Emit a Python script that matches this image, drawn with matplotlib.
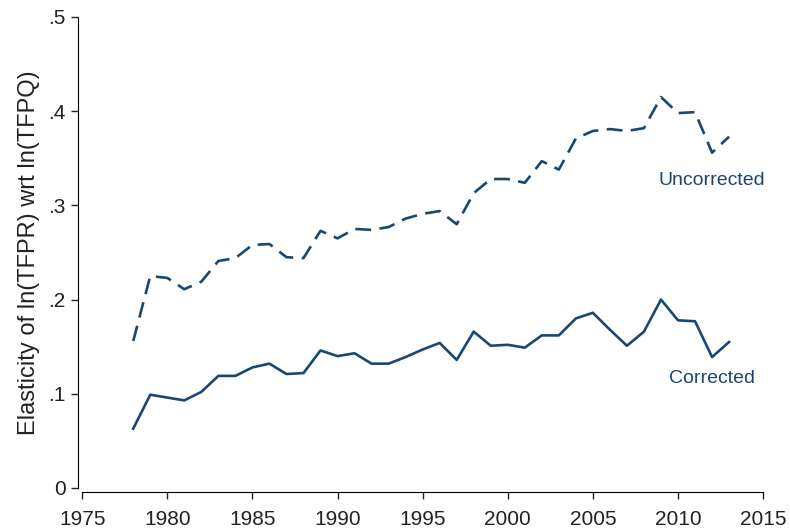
import matplotlib
matplotlib.use("Agg")
import matplotlib.pyplot as plt

years = list(range(1978, 2014))
uncorrected = [0.156, 0.225, 0.223, 0.211, 0.219, 0.241, 0.244, 0.258, 0.259, 0.245,
               0.244, 0.273, 0.265, 0.275, 0.274, 0.277, 0.286, 0.291, 0.294, 0.280,
               0.313, 0.328, 0.328, 0.324, 0.347, 0.338, 0.371, 0.379, 0.381, 0.379,
               0.382, 0.415, 0.398, 0.399, 0.356, 0.373]
corrected = [0.063, 0.099, 0.096, 0.093, 0.102, 0.119, 0.119, 0.128, 0.132, 0.121,
             0.122, 0.146, 0.140, 0.143, 0.132, 0.132, 0.139, 0.147, 0.154, 0.136,
             0.166, 0.151, 0.152, 0.149, 0.162, 0.162, 0.180, 0.186, 0.168, 0.151,
             0.166, 0.200, 0.178, 0.177, 0.139, 0.155]
xticks = [1975, 1980, 1985, 1990, 1995, 2000, 2005, 2010, 2015]
yticks = [0, 0.1, 0.2, 0.3, 0.4, 0.5]
yticklabels = ["0", ".1", ".2", ".3", ".4", ".5"]

plt.rcParams['font.family'] = ['Liberation Sans', 'DejaVu Sans']
navy = '#1a476f'

fig = plt.figure(figsize=(7.9, 5.31), dpi=100)
ax = fig.add_axes([0.104, 0.081, 0.862, 0.887])
ax.plot(years, uncorrected, color=navy, lw=1.9, linestyle=(0, (6, 3.2)))
ax.plot(years, corrected, color=navy, lw=1.9)
ax.text(2012.0, 0.326, "Uncorrected", color=navy, fontsize=14, ha='center', va='center')
ax.text(2012.0, 0.116, "Corrected", color=navy, fontsize=14, ha='center', va='center')

ax.set_xlim(1975, 2015)
ax.set_ylim(0, 0.5)
ax.set_xticks(xticks)
ax.set_yticks(yticks)
ax.set_yticklabels(yticklabels)
for s in ['top', 'right']:
    ax.spines[s].set_visible(False)
ax.spines['left'].set_position(('outward', 3))
ax.spines['bottom'].set_position(('outward', 3))
ax.tick_params(labelsize=15, length=5, width=1, colors='#222222')
ax.tick_params(axis='x', pad=8)
ax.tick_params(axis='y', pad=4)
ax.set_ylabel("Elasticity of ln(TFPR) wrt ln(TFPQ)", fontsize=17, color='#222222', labelpad=6)
fig.savefig("out.png", dpi=100)
